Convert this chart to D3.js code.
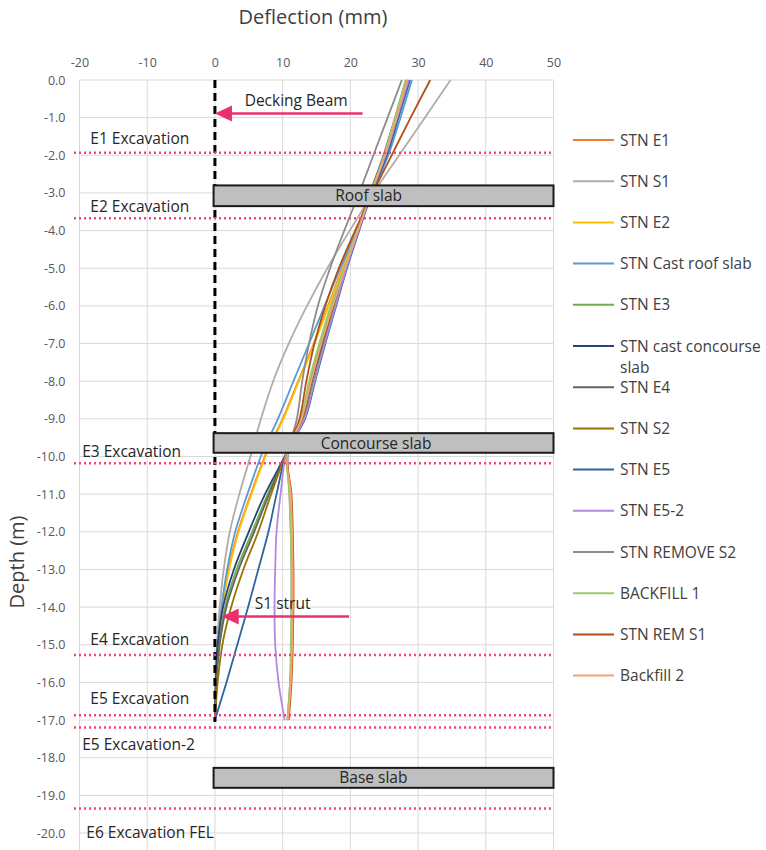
<!DOCTYPE html>
<html><head><meta charset="utf-8">
<script src="https://cdn.jsdelivr.net/npm/d3@7"></script>
<style>body{margin:0;background:#fff;} svg{display:block;font-family:"Open Sans",sans-serif;}</style>
</head><body><div id="chart"></div>
<script>
// ---------- DATA ----------
const depths = [0,-1,-2,-3,-4,-5,-6,-7,-8,-9,-9.9,-11,-12,-13,-14,-15,-16,-17];
const seriesNames = ["STN E1","STN S1","STN E2","STN Cast roof slab","STN E3","STN cast concourse slab","STN E4","STN S2","STN E5","STN E5-2","STN REMOVE S2","BACKFILL 1","STN  REM S1","Backfill 2"];
const seriesColors = ["#ED7D31","#B3ABA5","#FFC000","#5B9BD5","#70AD47","#264478","#636363","#997300","#2E64A0","#B18AE0","#8C8C8C","#9BCB6C","#B0501A","#F4A46E"];
const stnE1      = [28.6,26.9,25.2,23.1,20.9,18.8,16.7,14.6,12.3,10.0,7.6,5.3,3.4,2.0,1.0,0.5,0.2,0];
const stnS1      = [34.8,31.0,27.2,23.4,19.9,16.6,13.6,10.9,8.6,6.8,5.4,3.6,2.2,1.3,0.7,0.3,0.1,0];
const stnE2      = [28.7,27.0,25.3,23.2,21.0,18.9,16.8,14.7,12.4,10.1,7.7,5.4,3.5,2.1,1.1,0.5,0.2,0];
const stnCastRoof= [29.1,27.4,25.6,23.3,20.9,18.5,16.2,13.9,11.6,9.3,7.0,4.8,3.0,1.8,1.0,0.5,0.2,0];
const stnE3      = [28.3,26.7,25.0,23.0,21.0,19.1,17.3,15.6,14.1,12.8,10.6,7.8,5.5,3.2,1.5,0.6,0.2,0];
const stnCastConc= [28.5,26.8,25.1,23.0,21.1,19.3,17.6,15.9,14.3,12.9,10.6,7.4,5.0,2.8,1.2,0.4,0.1,0];
const stnE4      = [28.2,26.6,24.9,22.9,21.0,19.2,17.5,15.9,14.3,12.9,10.6,8.0,5.8,3.5,1.7,0.7,0.2,0];
const stnS2      = [28.4,26.8,25.1,23.0,21.1,19.3,17.7,16.1,14.6,13.1,10.6,8.3,6.4,4.2,2.4,1.1,0.4,0];
const stnE5      = [28.8,27.1,25.4,23.2,21.3,19.5,17.9,16.3,14.8,13.3,10.6,9.1,7.9,6.4,4.9,3.3,1.7,0];
const stnE5b     = [28.6,26.9,25.2,23.1,21.2,19.4,17.8,16.2,14.7,13.2,10.6,9.7,9.1,8.9,8.8,8.9,9.4,10.3];
const stnRemS2   = [27.6,25.5,23.4,21.3,19.1,17.0,15.2,13.9,12.9,12.1,10.8,11.0,11.2,11.3,11.3,11.3,11.1,10.7];
const backfill1  = [28.2,26.6,25.0,23.0,21.0,19.0,17.1,15.4,13.9,12.7,10.7,11.0,11.2,11.3,11.3,11.2,11.1,10.7];
const stnRemS1   = [31.8,28.9,26.1,23.3,20.7,18.3,16.3,14.7,13.5,12.5,10.7,11.3,11.5,11.6,11.6,11.5,11.3,10.9];
const backfill2  = [28.4,26.8,25.1,23.1,21.1,19.2,17.4,15.7,14.2,12.8,10.7,11.2,11.4,11.5,11.5,11.4,11.2,10.8];
const seriesValues = [stnE1,stnS1,stnE2,stnCastRoof,stnE3,stnCastConc,stnE4,stnS2,stnE5,stnE5b,stnRemS2,backfill1,stnRemS1,backfill2];

const xTicks = [-20,-10,0,10,20,30,40,50];
const yTicks = [0,-1,-2,-3,-4,-5,-6,-7,-8,-9,-10,-11,-12,-13,-14,-15,-16,-17,-18,-19,-20];

const excavationNames  = ["E1 Excavation","E2 Excavation","E3 Excavation","E4 Excavation","E5 Excavation","E5 Excavation-2","E6 Excavation FEL"];
const excavationDepths = [-1.93,-3.67,-10.18,-15.27,-16.87,-17.2,-19.35];
const excavationLabelDepths = [-1.55,-3.37,-9.87,-14.85,-16.43,-17.66,-19.98];
const excavationLabelX = [-18.4,-18.4,-19.6,-18.4,-18.4,-19.6,-19.0];

const slabNames  = ["Roof slab","Concourse slab","Base slab"];
const slabTop    = [-2.8,-9.38,-18.27];
const slabBottom = [-3.35,-9.9,-18.8];
const slabLabelX = [22.7,23.8,23.4];

const arrowNames = ["Decking Beam","S1 strut"];
const arrowDepth = [-0.89,-14.25];
const arrowFrom  = [21.8,19.8];
const arrowTo    = [0,1.0];
const arrowLabelX= [12.0,10.0];
const arrowLabelDepth = [-0.55,-13.9];

// ---------- CHART ----------
const W = 766, H = 850;
const svg = d3.select("#chart").append("svg").attr("width",W).attr("height",H);
const x = d3.scaleLinear().domain([-20,50]).range([79.5,553.5]);
const y = d3.scaleLinear().domain([0,-21]).range([80, 80+21*37.65]);
const pLeft = x(-20), pRight = x(50), pTop = y(0), pBottom = H;
const txt = "#262626";

// grid
svg.append("g").selectAll("line").data(xTicks).join("line")
  .attr("x1",d=>x(d)).attr("x2",d=>x(d)).attr("y1",pTop).attr("y2",pBottom)
  .attr("stroke","#d9d9d9").attr("stroke-width",1);
svg.append("g").selectAll("line").data(yTicks).join("line")
  .attr("x1",pLeft).attr("x2",pRight).attr("y1",d=>y(d)).attr("y2",d=>y(d))
  .attr("stroke","#d9d9d9").attr("stroke-width",1);

// axes
const gx = svg.append("g").attr("transform",`translate(0,${pTop})`)
  .call(d3.axisTop(x).tickValues(xTicks).tickSize(0).tickPadding(13).tickFormat(d=>d.toFixed(0)));
const gy = svg.append("g").attr("transform",`translate(${pLeft},0)`)
  .call(d3.axisLeft(y).tickValues(yTicks).tickSize(0).tickPadding(14).tickFormat(d=>d.toFixed(1)));
[gx,gy].forEach(g=>{g.select(".domain").remove();
  g.selectAll("text").attr("fill","#595959").style("font-size","12.5px").style("font-family","'Open Sans',sans-serif");});

svg.append("text").attr("x",313).attr("y",24).attr("text-anchor","middle")
  .attr("fill","#404040").style("font-size","20px").text("Deflection (mm)");
svg.append("text").attr("transform","translate(24,562) rotate(-90)").attr("text-anchor","middle")
  .attr("fill","#404040").style("font-size","20px").text("Depth (m)");

// curves
const line = d3.line().x(d=>x(d[0])).y(d=>y(d[1])).curve(d3.curveCatmullRom.alpha(0.5));
seriesValues.forEach((vals,i)=>{
  svg.append("path").datum(vals.map((v,j)=>[v,depths[j]]))
    .attr("d",line).attr("fill","none").attr("stroke",seriesColors[i]).attr("stroke-width",1.8);
});

// zero dashed line
svg.append("line").attr("x1",x(0)).attr("x2",x(0)).attr("y1",pTop).attr("y2",y(-17.05))
  .attr("stroke","#000").attr("stroke-width",3).attr("stroke-dasharray","8,5");

// slabs (drawn over curves)
slabNames.forEach((n,i)=>{
  svg.append("rect").attr("x",x(-0.2)).attr("y",y(slabTop[i]))
    .attr("width",x(50)-x(-0.2)).attr("height",y(slabBottom[i])-y(slabTop[i]))
    .attr("fill","#bfbfbf").attr("stroke","#1a1a1a").attr("stroke-width",2);
  svg.append("text").attr("x",x(slabLabelX[i])).attr("y",(y(slabTop[i])+y(slabBottom[i]))/2)
    .attr("dy","0.36em").attr("text-anchor","middle").attr("fill",txt)
    .style("font-size","15.5px").text(n);
});

// excavation lines
excavationNames.forEach((n,i)=>{
  svg.append("line").attr("x1",74).attr("x2",pRight).attr("y1",y(excavationDepths[i])).attr("y2",y(excavationDepths[i]))
    .attr("stroke","#F0457A").attr("stroke-width",2.5).attr("stroke-dasharray","2,3");
  svg.append("text").attr("x",x(excavationLabelX[i])).attr("y",y(excavationLabelDepths[i]))
    .attr("dy","0.36em").attr("fill",txt).style("font-size","15.5px").text(n);
});

// arrows
arrowNames.forEach((n,i)=>{
  const yy = y(arrowDepth[i]), x0 = x(arrowFrom[i]), x1 = x(arrowTo[i]);
  svg.append("line").attr("x1",x0).attr("x2",x1+14).attr("y1",yy).attr("y2",yy)
    .attr("stroke","#EC2F6B").attr("stroke-width",2.5);
  svg.append("path").attr("d",`M${x1},${yy} L${x1+17},${yy-8} L${x1+17},${yy+8} Z`).attr("fill","#EC2F6B");
  svg.append("text").attr("x",x(arrowLabelX[i])).attr("y",y(arrowLabelDepth[i]))
    .attr("dy","0.36em").attr("text-anchor","middle").attr("fill",txt).style("font-size","15.5px").text(n);
});

// legend
const lg = svg.append("g");
seriesNames.forEach((n,i)=>{
  const ly = 140 + i*41.2;
  lg.append("line").attr("x1",573).attr("x2",614).attr("y1",ly).attr("y2",ly)
    .attr("stroke",seriesColors[i]).attr("stroke-width",2);
  const t = lg.append("text").attr("x",620).attr("y",ly).attr("dy","0.36em")
    .attr("fill","#404040").style("font-size","15.5px");
  if(n==="STN cast concourse slab"){
    t.append("tspan").attr("x",620).text("STN cast concourse");
    t.append("tspan").attr("x",620).attr("dy","1.35em").text("slab");
  } else t.text(n);
});
</script></body></html>
